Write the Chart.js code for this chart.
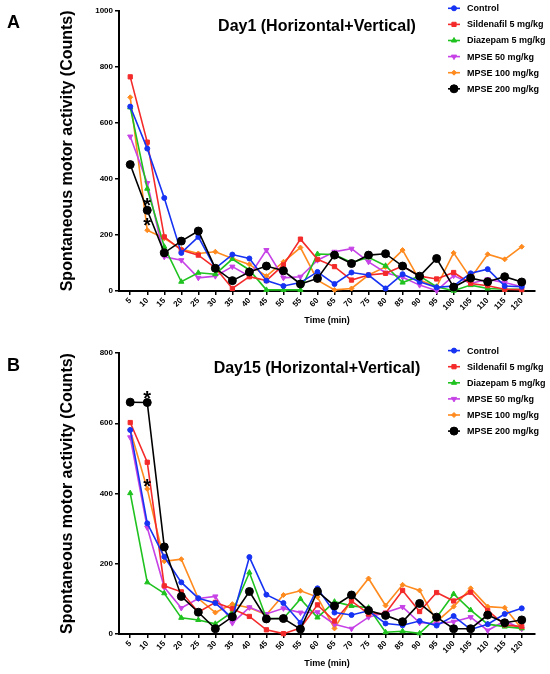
<!DOCTYPE html>
<html>
<head>
<meta charset="utf-8">
<script src="https://cdn.jsdelivr.net/npm/chart.js@4.4.1/dist/chart.umd.min.js"></script>
<style>
  body { margin: 0; background: #fff; }
  .panel { width: 550px; height: 337px; }
</style>
</head>
<body>
<div class="panel"><canvas id="chartA" width="550" height="337"></canvas></div>
<div class="panel"><canvas id="chartB" width="550" height="337"></canvas></div>
<script>
// time points (x ticks)
var timeLabels = [5, 10, 15, 20, 25, 30, 35, 40, 45, 50, 55, 60,
  65, 70, 75, 80, 85, 90, 95, 100, 105, 110, 115, 120];
var yTicksA = [0, 200, 400, 600, 800, 1000];
var yTicksB = [0, 200, 400, 600, 800];

var groupNames = ["Control", "Sildenafil 5 mg/kg", "Diazepam 5 mg/kg",
  "MPSE 50 mg/kg", "MPSE 100 mg/kg", "MPSE 200 mg/kg"];

// Day 1
var controlA = [658, 508, 332, 136, 193, 81, 130, 116, 37, 18, 30, 68, 25, 66, 57, 9, 60, 33, 13, 18, 63, 78, 18, 15];
var sildenafilA = [764, 531, 193, 146, 128, 83, 9, 51, 37, 93, 185, 113, 87, 39, 57, 63, 89, 53, 43, 66, 27, 19, 6, 5];
var diazepamA = [655, 365, 158, 33, 65, 60, 114, 75, 4, 4, 4, 132, 130, 102, 120, 90, 30, 53, 15, 1, 21, 9, 6, 6];
var mpse50A = [551, 385, 122, 110, 47, 53, 87, 53, 146, 47, 51, 110, 140, 151, 104, 65, 49, 21, 1, 55, 27, 42, 30, 15];
var mpse100A = [691, 217, 188, 150, 134, 140, 116, 95, 53, 104, 155, 39, 4, 9, 57, 86, 146, 39, 15, 136, 46, 131, 113, 158];
var mpse200A = [451, 288, 136, 178, 214, 81, 37, 68, 89, 72, 25, 45, 128, 98, 128, 133, 89, 53, 116, 14, 46, 33, 51, 32];

// Day 15
var controlB = [581, 315, 220, 147, 102, 88, 45, 219, 112, 88, 32, 130, 61, 54, 66, 30, 25, 37, 24, 51, 13, 28, 57, 73];
var sildenafilB = [602, 489, 137, 120, 62, 90, 72, 50, 12, 1, 17, 83, 37, 94, 57, 59, 124, 64, 118, 94, 119, 67, 26, 21];
var diazepamB = [401, 147, 116, 46, 40, 29, 63, 175, 45, 44, 100, 47, 92, 80, 75, 5, 8, 2, 47, 114, 68, 28, 21, 16];
var mpse50B = [560, 303, 133, 74, 101, 107, 31, 76, 57, 73, 61, 62, 28, 15, 48, 61, 77, 32, 30, 35, 48, 10, 37, 15];
var mpse100B = [581, 413, 207, 213, 101, 61, 85, 75, 55, 111, 123, 105, 16, 97, 158, 81, 140, 124, 35, 78, 130, 78, 75, 15];
var mpse200B = [660, 659, 248, 107, 62, 15, 49, 121, 43, 44, 14, 121, 80, 111, 67, 53, 35, 87, 48, 15, 15, 54, 32, 40];

// asterisk positions [time, count]
var starsA = [[10, 324], [10, 250]];
var starsB = [[10, 686], [10, 434]];

var fontFamily = '"Liberation Sans", Arial, sans-serif';
Chart.defaults.font.family = fontFamily;
Chart.defaults.color = "#000";

var styles = [
  { color: "#1632f2", pointStyle: "circle", radius: 2.5, rotation: 0, order: 1 },
  { color: "#f42a2a", pointStyle: "rect", radius: 3, rotation: 0, order: 2 },
  { color: "#1fc21f", pointStyle: "triangle", radius: 3, rotation: 0, order: 3 },
  { color: "#c642e6", pointStyle: "triangle", radius: 3, rotation: 180, order: 4 },
  { color: "#ff8a1e", pointStyle: "rectRot", radius: 2.5, rotation: 0, order: 5 },
  { color: "#000000", pointStyle: "circle", radius: 4, rotation: 0, order: 0 }
];

function makeDatasets(seriesList) {
  return seriesList.map(function (values, i) {
    var s = styles[i];
    return {
      label: groupNames[i],
      data: values.map(function (v, j) { return { x: timeLabels[j], y: v }; }),
      borderColor: s.color,
      backgroundColor: s.color,
      borderWidth: 1.6,
      pointStyle: s.pointStyle,
      pointRadius: s.radius,
      pointRotation: s.rotation,
      pointBorderWidth: 1,
      tension: 0,
      clip: false,
      order: s.order
    };
  });
}

// panel letter, title, asterisks and legend drawn over the plot
var panelDecor = {
  id: "panelDecor",
  afterDatasetsDraw: function (chart, args, opts) {
    var ctx = chart.ctx;
    var area = chart.chartArea;
    ctx.save();
    ctx.fillStyle = "#000";
    ctx.textBaseline = "alphabetic";
    ctx.textAlign = "left";
    ctx.font = "bold 18px " + fontFamily;
    ctx.fillText(opts.letter, 7, area.top + 17.5);

    ctx.textAlign = "center";
    ctx.font = "bold 16px " + fontFamily;
    ctx.fillText(opts.title, 317, area.top + 20);

    ctx.font = "bold 20px " + fontFamily;
    opts.stars.forEach(function (s) {
      var x = chart.scales.x.getPixelForValue(s[0]);
      var y = chart.scales.y.getPixelForValue(s[1]);
      ctx.fillText("*", x, y + 11.5);
    });

    ctx.textAlign = "left";
    ctx.textBaseline = "middle";
    ctx.font = "bold 9px " + fontFamily;
    chart.data.datasets.forEach(function (ds, i) {
      var y = area.top - 2.4 + 16.1 * i;
      ctx.strokeStyle = ds.borderColor;
      ctx.fillStyle = ds.backgroundColor;
      ctx.lineWidth = 1.6;
      ctx.beginPath();
      ctx.moveTo(448, y);
      ctx.lineTo(460, y);
      ctx.stroke();
      ctx.lineWidth = 1;
      Chart.helpers.drawPoint(ctx, {
        pointStyle: ds.pointStyle,
        radius: ds.pointRadius,
        rotation: ds.pointRotation,
        borderWidth: 1
      }, 454, y);
      ctx.fillStyle = "#000";
      ctx.fillText(ds.label, 467, y + 0.5);
    });
    ctx.restore();
  }
};

function makeOptions(yMax, yTicks, padTop, padBottom, letter, title, stars) {
  return {
    responsive: false,
    animation: false,
    layout: { padding: { top: padTop, bottom: padBottom, left: 0, right: 15 } },
    plugins: {
      legend: { display: false },
      tooltip: { enabled: false },
      panelDecor: { letter: letter, title: title, stars: stars }
    },
    scales: {
      x: {
        type: "linear",
        min: 1.7,
        max: 123.9,
        afterBuildTicks: function (axis) {
          axis.ticks = timeLabels.map(function (v) { return { value: v }; });
        },
        afterFit: function (axis) { axis.height = 40; },
        grid: { display: true, drawOnChartArea: false, drawTicks: true, tickLength: 4, color: "#000", lineWidth: 1.5 },
        border: { display: true, color: "#000", width: 2 },
        ticks: {
          autoSkip: false, maxRotation: 45, minRotation: 45, padding: 1,
          font: { size: 8, weight: "bold" }, color: "#000",
          callback: function (v) { return String(v); }
        },
        title: {
          display: true, text: "Time (min)", color: "#000",
          font: { size: 9, weight: "bold" }, padding: { top: 0, bottom: 5 }
        }
      },
      y: {
        min: 0,
        max: yMax,
        afterBuildTicks: function (axis) {
          axis.ticks = yTicks.map(function (v) { return { value: v }; });
        },
        afterFit: function (axis) { axis.width = 119; },
        grid: { display: true, drawOnChartArea: false, drawTicks: true, tickLength: 4, color: "#000", lineWidth: 1.5 },
        border: { display: true, color: "#000", width: 2 },
        ticks: {
          padding: 2, font: { size: 8, weight: "bold" }, color: "#000",
          callback: function (v) { return String(v); }
        },
        title: {
          display: true, text: "Spontaneous motor activity (Counts)", color: "#000",
          font: { size: 16, weight: "bold" }, padding: { top: 58, bottom: 0 }
        }
      }
    }
  };
}

new Chart(document.getElementById("chartA"), {
  type: "line",
  data: { datasets: makeDatasets([controlA, sildenafilA, diazepamA, mpse50A, mpse100A, mpse200A]) },
  options: makeOptions(1000, yTicksA, 10.7, 6, "A", "Day1 (Horizontal+Vertical)", starsA),
  plugins: [panelDecor]
});

new Chart(document.getElementById("chartB"), {
  type: "line",
  data: { datasets: makeDatasets([controlB, sildenafilB, diazepamB, mpse50B, mpse100B, mpse200B]) },
  options: makeOptions(800, yTicksB, 16, 0, "B", "Day15 (Horizontal+Vertical)", starsB),
  plugins: [panelDecor]
});
</script>
</body>
</html>
